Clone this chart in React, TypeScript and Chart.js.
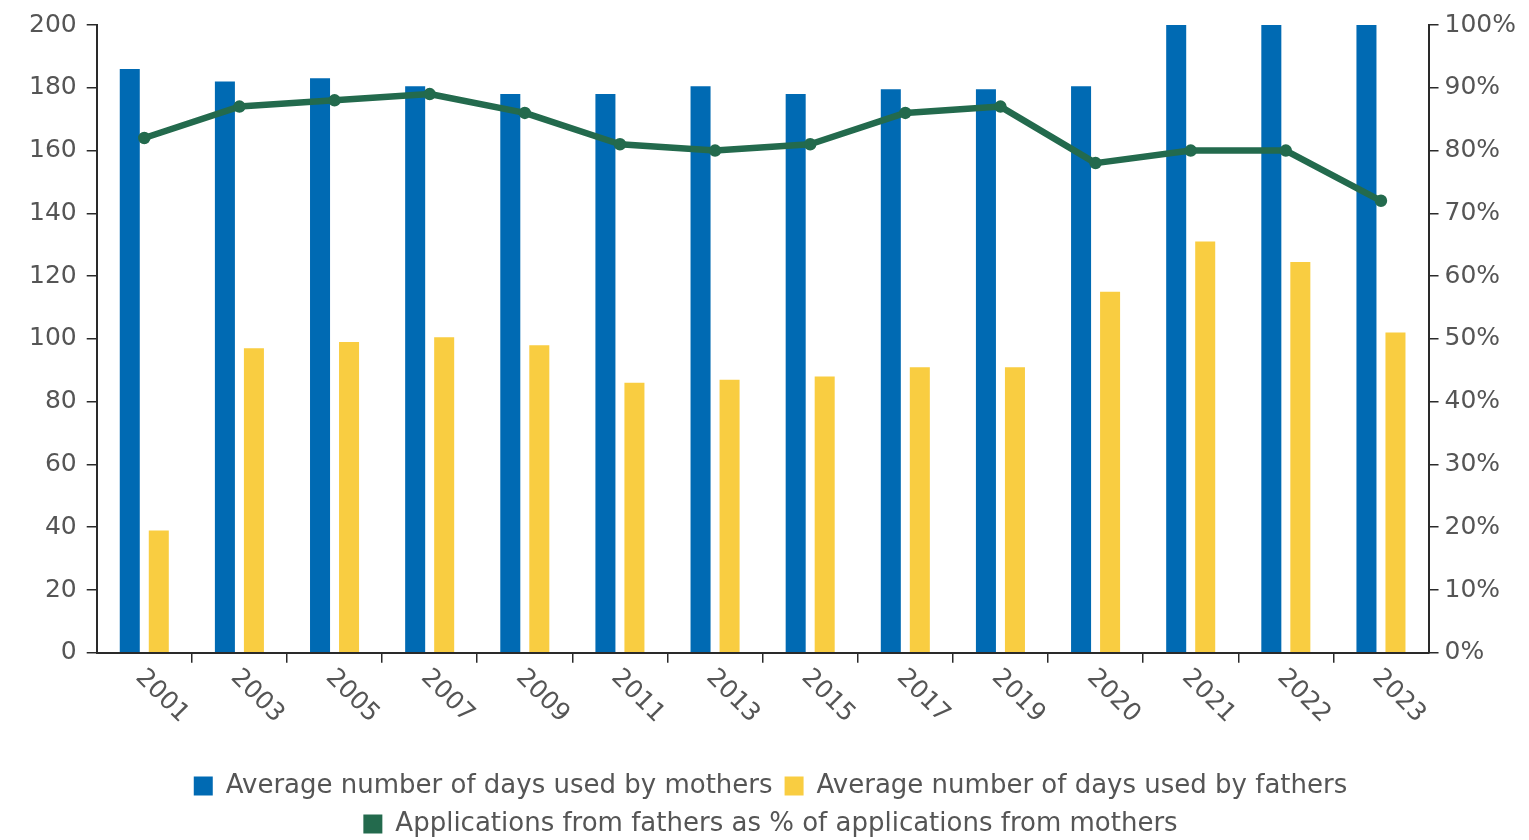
import React, { useEffect, useRef } from 'react';
import { Chart, registerables } from 'chart.js';

Chart.register(...registerables);

const years = ['2001', '2003', '2005', '2007', '2009', '2011', '2013', '2015', '2017', '2019', '2020', '2021', '2022', '2023'];
const mothersDays = [186, 182, 183, 180.5, 178, 178, 180.5, 178, 179.5, 179.5, 180.5, 200, 200, 200];
const fathersDays = [39, 97, 99, 100.5, 98, 86, 87, 88, 91, 91, 115, 131, 124.5, 102];
const fatherAppsPct = [82, 87, 88, 89, 86, 81, 80, 81, 86, 87, 78, 80, 80, 72];
const leftTicks = [0, 20, 40, 60, 80, 100, 120, 140, 160, 180, 200];
const rightTicks = [0, 10, 20, 30, 40, 50, 60, 70, 80, 90, 100];

const seriesNames = [
  'Average number of days used by mothers',
  'Average number of days used by fathers',
  'Applications from fathers as % of applications from mothers',
];

const BLUE = '#006AB3';
const YELLOW = '#F9CD41';
const GREEN = '#236A4D';
const TEXT = '#555555';
const AXIS = '#2a2a2a';
const FONT = '"DejaVu Sans", sans-serif';

const rotatedXLabels = {
  id: 'rotatedXLabels',
  afterDraw(chart: any) {
    const { ctx } = chart;
    const x = chart.scales.x;
    ctx.save();
    ctx.font = `25px ${FONT}`;
    ctx.fillStyle = TEXT;
    ctx.textAlign = 'left';
    ctx.textBaseline = 'top';
    years.forEach((label, i) => {
      const px = x.getPixelForValue(i);
      ctx.save();
      ctx.translate(px + 4, x.top + 12);
      ctx.rotate(Math.PI / 4);
      ctx.fillText(label, 0, 0);
      ctx.restore();
    });
    ctx.restore();
  },
};

export default function App() {
  const canvasRef = useRef<HTMLCanvasElement | null>(null);

  useEffect(() => {
    if (!canvasRef.current) return;
    const axisGrid = {
      display: true,
      drawOnChartArea: false,
      drawTicks: true,
      tickLength: 10,
      color: AXIS,
      lineWidth: 1.5,
    };
    const chart = new Chart(canvasRef.current, {
      type: 'bar',
      data: {
        labels: years,
        datasets: [
          {
            type: 'line',
            label: seriesNames[2],
            data: fatherAppsPct,
            yAxisID: 'y1',
            borderColor: GREEN,
            backgroundColor: GREEN,
            borderWidth: 6.5,
            borderCapStyle: 'round',
            borderJoinStyle: 'round',
            pointRadius: 3,
            pointBackgroundColor: GREEN,
            pointBorderColor: GREEN,
            tension: 0,
            order: 0,
          } as any,
          {
            type: 'bar',
            label: seriesNames[0],
            data: mothersDays,
            yAxisID: 'y',
            backgroundColor: BLUE,
            borderWidth: 0,
            categoryPercentage: 0.61,
            barPercentage: 0.69,
            order: 1,
          },
          {
            type: 'bar',
            label: seriesNames[1],
            data: fathersDays,
            yAxisID: 'y',
            backgroundColor: YELLOW,
            borderWidth: 0,
            categoryPercentage: 0.61,
            barPercentage: 0.69,
            order: 2,
          },
        ],
      },
      options: {
        animation: false,
        responsive: true,
        maintainAspectRatio: false,
        layout: { padding: { top: 12.5, right: 7, left: 19, bottom: -7 } },
        plugins: {
          tooltip: { enabled: false },
          legend: {
            position: 'bottom',
            labels: {
              font: { family: FONT, size: 26 },
              color: TEXT,
              boxWidth: 19,
              boxHeight: 19,
              padding: 12,
              sort: (a: any, b: any) => {
                const rank = (i: number) => (i === 0 ? 2 : i - 1);
                return rank(a.datasetIndex) - rank(b.datasetIndex);
              },
              generateLabels: (c: any) =>
                Chart.defaults.plugins.legend.labels.generateLabels(c).map((l: any) => ({
                  ...l,
                  lineWidth: 0,
                  strokeStyle: 'transparent',
                })),
            },
          },
        },
        scales: {
          x: {
            grid: {
              ...axisGrid,
              offset: true,
              color: (ctx: any) =>
                ctx.index === undefined || ctx.index === 0 || ctx.index >= years.length ? 'transparent' : AXIS,
            },
            border: { color: AXIS, width: 2 },
            ticks: {
              color: 'transparent',
              font: { family: FONT, size: 25 },
              minRotation: 45,
              maxRotation: 45,
              padding: 16,
            },
          },
          y: {
            position: 'left',
            min: 0,
            max: 200,
            afterBuildTicks: (s: any) => {
              s.ticks = leftTicks.map((v) => ({ value: v }));
            },
            grid: axisGrid,
            border: { color: AXIS, width: 2 },
            ticks: { color: TEXT, font: { family: FONT, size: 25 }, padding: 10 },
          },
          y1: {
            position: 'right',
            min: 0,
            max: 100,
            afterBuildTicks: (s: any) => {
              s.ticks = rightTicks.map((v) => ({ value: v }));
            },
            grid: axisGrid,
            border: { color: AXIS, width: 2 },
            ticks: {
              color: TEXT,
              font: { family: FONT, size: 25 },
              padding: 6,
              callback: (v: any) => `${v}%`,
            },
          },
        },
      },
      plugins: [rotatedXLabels],
    });
    return () => chart.destroy();
  }, []);

  return (
    <div style={{ position: 'absolute', left: 0, top: 0, width: 1529, height: 840, background: '#fff' }}>
      <canvas ref={canvasRef} />
    </div>
  );
}
